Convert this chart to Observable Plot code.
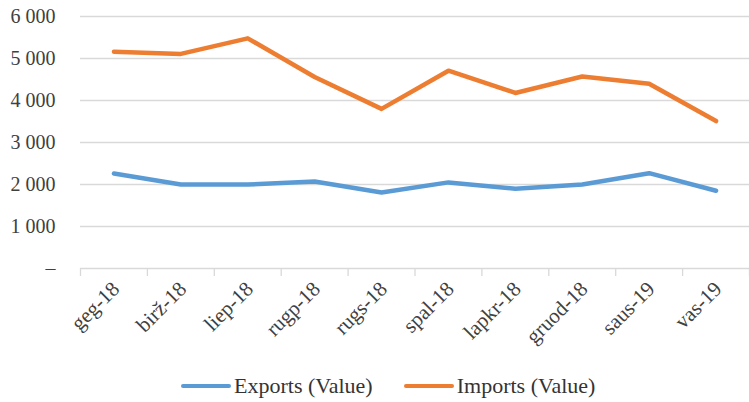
<!DOCTYPE html>
<html><head><meta charset="utf-8">
<script src="https://cdn.jsdelivr.net/npm/d3@7"></script>
<script src="https://cdn.jsdelivr.net/npm/@observablehq/plot@0.6"></script>
<style>
body{margin:0;background:#fff;font-family:"Liberation Serif","Times New Roman",serif;}
#wrap{position:relative;width:749px;height:402px;}
#legend{position:absolute;left:181px;top:373px;display:flex;gap:31px;font-size:22px;line-height:26px;color:#333;}
.item{display:flex;align-items:center;gap:3px;}
.sw{display:inline-block;width:50px;height:4px;border-radius:2px;}
</style></head>
<body><div id="wrap"><div id="chart"></div>
<div id="legend"></div></div>
<script>
const months = ["geg-18","birž-18","liep-18","rugp-18","rugs-18","spal-18","lapkr-18","gruod-18","saus-19","vas-19"];
const exportsVal = [2260, 2000, 2000, 2070, 1810, 2050, 1900, 2000, 2270, 1850];
const importsVal = [5160, 5110, 5480, 4560, 3800, 4710, 4180, 4570, 4400, 3510];
const yTicks = [0, 1000, 2000, 3000, 4000, 5000, 6000];
const seriesNames = ["Exports (Value)", "Imports (Value)"];
const colors = ["#5B9BD5", "#ED7D31"];

const rows = [];
months.forEach((m, i) => {
  rows.push({i, m, v: exportsVal[i], s: seriesNames[0]});
  rows.push({i, m, v: importsVal[i], s: seriesNames[1]});
});
const idx = months.map((_, i) => i);
const bounds = d3.range(months.length + 1).map(i => i - 0.5);
const fmt = d => d === 0 ? "–" : d3.format(",")(d).replace(/,/g, " ");

const chart = Plot.plot({
  width: 749, height: 360,
  marginLeft: 80, marginRight: 0, marginTop: 16, marginBottom: 92,
  style: {fontFamily: "'Liberation Serif','Times New Roman',serif", fontSize: "20px", color: "#404040", background: "#fff"},
  x: {type: "linear", domain: [-0.5, months.length - 0.5], axis: null, label: null},
  y: {domain: [0, 6000], axis: null, label: null},
  color: {domain: seriesNames, range: colors},
  marks: [
    Plot.gridY(yTicks.filter(d => d > 0), {stroke: "#d9d9d9", strokeOpacity: 1, strokeWidth: 1.3}),
    Plot.ruleY([0], {stroke: "#d9d9d9", strokeWidth: 1.3}),
    Plot.axisY({ticks: yTicks, tickFormat: fmt, tickSize: 0, tickPadding: 25, fontSize: 20, fill: "#404040", label: null}),
    Plot.axisX({ticks: bounds, tickFormat: () => "", tickSize: 8, stroke: "#d9d9d9", strokeOpacity: 1, strokeWidth: 1.3, label: null}),
    Plot.axisX({ticks: idx, tickFormat: i => months[i], tickSize: 0, tickPadding: 10, dy: 7, dx: 2, tickRotate: -45, fontSize: 21, fill: "#404040", label: null}),
    Plot.line(rows, {x: "i", y: "v", z: "s", stroke: "s", strokeWidth: 4.5, strokeLinejoin: "round", strokeLinecap: "round"})
  ]
});
document.getElementById("chart").appendChild(chart);

const lg = document.getElementById("legend");
seriesNames.forEach((n, k) => {
  const it = document.createElement("div"); it.className = "item";
  const sw = document.createElement("span"); sw.className = "sw"; sw.style.background = colors[k];
  const tx = document.createElement("span"); tx.textContent = n;
  it.appendChild(sw); it.appendChild(tx); lg.appendChild(it);
});
</script></body></html>
